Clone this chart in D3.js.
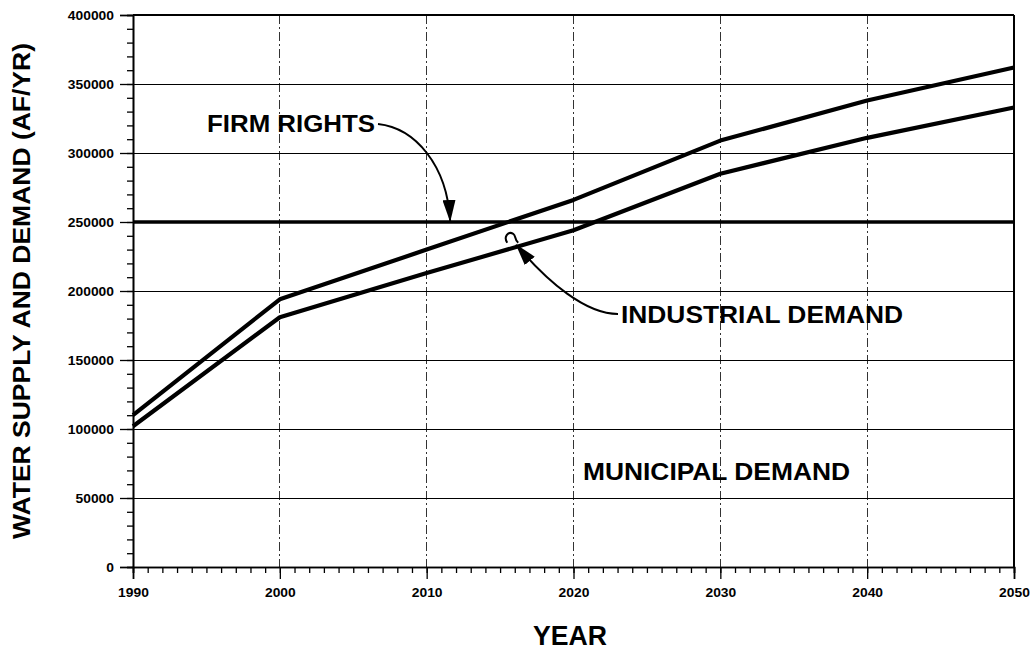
<!DOCTYPE html>
<html>
<head>
<meta charset="utf-8">
<script src="https://cdn.jsdelivr.net/npm/d3@7"></script>
<style>
	html, body { margin: 0; padding: 0; background: #fff; }
	svg { display: block; font-family: "Liberation Sans", Arial, sans-serif; }
</style>
</head>
<body>
<div id="chart"></div>
<script>
// values
const years = [1990, 2000, 2010, 2020, 2030, 2040, 2050];
const municipalDemand = [102000, 181000, 213000, 244000, 285000, 311000, 333000];
const totalDemand = [110000, 194000, 230000, 266000, 309000, 338000, 362000]; // municipal + industrial
const firmRights = 250000;
const yTickValues = [0, 50000, 100000, 150000, 200000, 250000, 300000, 350000, 400000];
const xTickValues = [1990, 2000, 2010, 2020, 2030, 2040, 2050];

function drawChart() {

	// 1. dimensions

	const width = 1035;
	const height = 651;
	const margin = {top: 15, right: 21, bottom: 84, left: 133};

	// 2. canvas

	const svg = d3.select("#chart")
		.append("svg")
		.attr("width", width)
		.attr("height", height);

	// 3. scales

	const xScale = d3.scaleLinear()
		.domain([1990, 2050])
		.range([margin.left, width - margin.right]);

	const yScale = d3.scaleLinear()
		.domain([0, 400000])
		.range([height - margin.bottom, margin.top]);

	// 4. grid

	const grid = svg.append("g")
		.attr("shape-rendering", "crispEdges");

	grid.selectAll(".vgrid")
		.data(xTickValues.slice(1))
		.enter()
		.append("line")
		.attr("x1", d => xScale(d))
		.attr("x2", d => xScale(d))
		.attr("y1", yScale(400000))
		.attr("y2", yScale(0))
		.attr("stroke", d => d === 2050 ? "#000" : "#333")
		.attr("stroke-width", d => d === 2050 ? 1.5 : 1)
		.attr("stroke-dasharray", d => d === 2050 ? null : "9,3,2,3");

	grid.selectAll(".hgrid")
		.data(yTickValues.slice(1))
		.enter()
		.append("line")
		.attr("x1", xScale(1990))
		.attr("x2", xScale(2050))
		.attr("y1", d => yScale(d))
		.attr("y2", d => yScale(d))
		.attr("stroke", "#000")
		.attr("stroke-width", d => d === 400000 ? 1.5 : 1);

	// 5. data

	svg.append("line")
		.attr("x1", xScale(1990))
		.attr("x2", xScale(2050))
		.attr("y1", yScale(firmRights))
		.attr("y2", yScale(firmRights))
		.attr("stroke", "#000")
		.attr("stroke-width", 3.4);

	const lineGen = d3.line()
		.x((d, i) => xScale(years[i]))
		.y(d => yScale(d));

	[municipalDemand, totalDemand].forEach(series => {
		svg.append("path")
			.datum(series)
			.attr("d", lineGen)
			.attr("fill", "none")
			.attr("stroke", "#000")
			.attr("stroke-width", 4.2)
			.attr("stroke-linejoin", "round");
	});

	// 6. axes

	const yMinor = d3.axisLeft(yScale)
		.tickValues(d3.range(0, 400001, 10000))
		.tickSize(6)
		.tickFormat("");
	svg.append("g")
		.attr("transform", `translate(${margin.left},0)`)
		.call(yMinor);

	const yAxis = svg.append("g")
		.attr("transform", `translate(${margin.left},0)`)
		.call(d3.axisLeft(yScale)
			.tickValues(yTickValues)
			.tickSize(13)
			.tickPadding(6)
			.tickFormat(d3.format("d")));

	const xMinor = d3.axisBottom(xScale)
		.tickValues(d3.range(1990, 2051, 1))
		.tickSize(6)
		.tickFormat("");
	svg.append("g")
		.attr("transform", `translate(0,${height - margin.bottom})`)
		.call(xMinor);

	const xAxis = svg.append("g")
		.attr("transform", `translate(0,${height - margin.bottom})`)
		.call(d3.axisBottom(xScale)
			.tickValues(xTickValues)
			.tickSize(12)
			.tickPadding(9)
			.tickFormat(d3.format("d")));

	svg.selectAll(".domain")
		.attr("stroke", "#000")
		.attr("stroke-width", 1.6);
	svg.selectAll(".tick line")
		.attr("stroke", "#000")
		.attr("stroke-width", 1.3);

	[yAxis, xAxis].forEach(ax => {
		ax.selectAll("text")
			.attr("fill", "#000")
			.style("font-size", "12.5px")
			.style("font-weight", "bold")
			.attr("textLength", function () { return this.textContent.length * 7.7; })
			.attr("lengthAdjust", "spacingAndGlyphs");
	});

	// 7. labels

	const label = (txt, x, y, size, len) => svg.append("text")
		.attr("x", x)
		.attr("y", y)
		.attr("font-size", size)
		.attr("font-weight", "bold")
		.attr("textLength", len)
		.attr("lengthAdjust", "spacingAndGlyphs")
		.text(txt);

	label("FIRM RIGHTS", 207, 132, 24, 168);
	label("INDUSTRIAL DEMAND", 621, 323, 24, 282);
	label("MUNICIPAL DEMAND", 583, 480, 24, 267);
	label("YEAR", 533, 645, 27, 74);

	svg.append("text")
		.attr("transform", "translate(30,291) rotate(-90)")
		.attr("text-anchor", "middle")
		.attr("font-size", 24)
		.attr("font-weight", "bold")
		.attr("textLength", 496)
		.attr("lengthAdjust", "spacingAndGlyphs")
		.text("WATER SUPPLY AND DEMAND (AF/YR)");

	// 8. annotation arrows

	svg.append("defs").append("marker")
		.attr("id", "head")
		.attr("markerUnits", "userSpaceOnUse")
		.attr("viewBox", "0 0 22 13")
		.attr("markerWidth", 22)
		.attr("markerHeight", 13)
		.attr("refX", 21)
		.attr("refY", 6.5)
		.attr("orient", "auto")
		.append("path")
		.attr("d", "M0,0 L22,6.5 L0,13 Z")
		.attr("fill", "#000");

	const firmTip = [xScale(2011.6), yScale(firmRights) - 1];
	svg.append("path")
		.attr("d", `M378,124 C415,128 ${firmTip[0] - 3},165 ${firmTip[0]},${firmTip[1]}`)
		.attr("fill", "none")
		.attr("stroke", "#000")
		.attr("stroke-width", 2)
		.attr("marker-end", "url(#head)");

	const indTip = [xScale(2016.1), yScale(233500)];
	svg.append("path")
		.attr("d", `M618,314 C586,314 ${indTip[0] + 32},${indTip[1] + 38} ${indTip[0]},${indTip[1]}`)
		.attr("fill", "none")
		.attr("stroke", "#000")
		.attr("stroke-width", 2)
		.attr("marker-end", "url(#head)");

	// small curl left over above the arrowhead
	svg.append("path")
		.attr("d", `M${indTip[0] - 9},${indTip[1] - 2} C${indTip[0] - 13},${indTip[1] - 8} ${indTip[0] - 8},${indTip[1] - 14} ${indTip[0] - 3},${indTip[1] - 11} C${indTip[0]},${indTip[1] - 9} ${indTip[0] - 2},${indTip[1] - 5} ${indTip[0] + 2},${indTip[1] - 2}`)
		.attr("fill", "none")
		.attr("stroke", "#000")
		.attr("stroke-width", 2);
}

drawChart();
</script>
</body>
</html>
